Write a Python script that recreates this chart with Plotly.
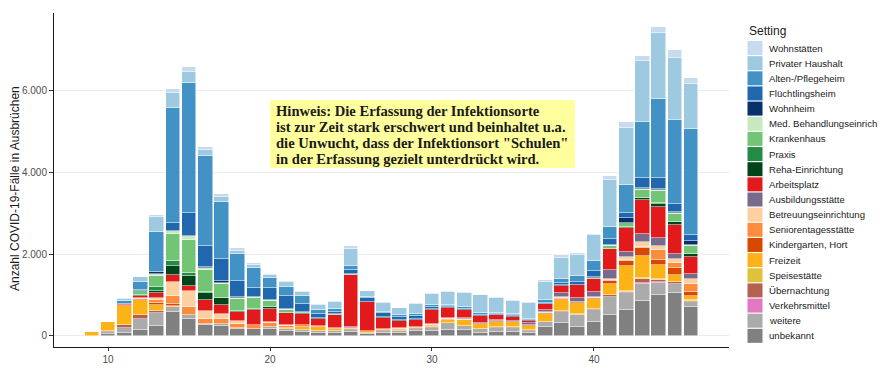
import plotly.graph_objects as go

# ---------------- data ----------------
weeks = [9, 10, 11, 12, 13, 14, 15, 16, 17, 18, 19, 20, 21, 22, 23, 24, 25, 26, 27,
         28, 29, 30, 31, 32, 33, 34, 35, 36, 37, 38, 39, 40, 41, 42, 43, 44, 45, 46]

categories = ["Wohnstätten", "Privater Haushalt", "Alten-/Pflegeheim", "Flüchtlingsheim",
              "Wohnheim", "Med. Behandlungseinrich", "Krankenhaus", "Praxis",
              "Reha-Einrichtung", "Arbeitsplatz", "Ausbildungsstätte",
              "Betreuungseinrichtung", "Seniorentagesstätte", "Kindergarten, Hort",
              "Freizeit", "Speisestätte", "Übernachtung", "Verkehrsmittel", "weitere",
              "unbekannt"]

colors = ["#C6DBEF", "#9ECAE1", "#4292C6", "#2067AE", "#08306B", "#C7E9C0", "#74C476",
          "#238B45", "#00441B", "#E31A1C", "#776A8C", "#FDD0A2", "#FD8D3C", "#D94801",
          "#FDB217", "#DFC237", "#B5614F", "#E377C2", "#ABABAB", "#808080"]

wohnstaetten = [0, 0, 10, 10, 57, 82, 123, 82, 82, 57, 40, 30, 30, 20, 20, 20, 80, 20, 10,
                10, 10, 20, 20, 20, 20, 20, 20, 20, 60, 80, 60, 40, 100, 160, 120, 160, 200, 160]
privater_haushalt = [0, 0, 60, 120, 368, 368, 261, 147, 123, 82, 80, 60, 130, 100, 120, 180,
                     400, 130, 230, 180, 260, 280, 330, 360, 440, 360, 320, 390, 420, 510,
                     500, 640, 1150, 1370, 1490, 1610, 1510, 1090]
alten_pflegeheim = [0, 0, 80, 200, 980, 2819, 3170, 2190, 1405, 654, 490, 250, 220, 190,
                    110, 80, 110, 40, 30, 40, 50, 30, 30, 30, 30, 30, 40, 20, 80, 100, 160,
                    230, 270, 690, 1360, 1930, 2040, 2590]
fluechtlingsheim = [0, 0, 0, 10, 0, 188, 556, 523, 539, 392, 220, 280, 320, 200, 90, 50, 90,
                    80, 80, 70, 70, 50, 20, 20, 20, 20, 20, 10, 30, 40, 60, 160, 150, 120,
                    260, 280, 200, 160]
wohnheim = [0, 0, 0, 0, 41, 15, 0, 25, 33, 25, 0, 0, 0, 0, 10, 0, 0, 10, 10, 10, 10, 15, 15,
            10, 10, 10, 10, 10, 10, 20, 10, 10, 10, 120, 10, 20, 20, 80]
med_behandlung = [0, 0, 0, 20, 41, 57, 98, 41, 33, 20, 25, 25, 15, 0, 0, 0, 0, 0, 0, 0, 0,
                  0, 0, 0, 0, 0, 0, 0, 0, 0, 0, 0, 20, 20, 40, 30, 30, 30]
krankenhaus = [0, 0, 0, 80, 286, 654, 817, 531, 335, 300, 270, 165, 65, 40, 0, 30, 30, 0, 0,
               0, 0, 0, 0, 0, 0, 0, 0, 0, 0, 0, 0, 30, 70, 90, 180, 280, 190, 190]
praxis = [0, 0, 0, 0, 82, 123, 82, 30, 0, 0, 0, 0, 0, 0, 0, 0, 0, 0, 0, 0, 0, 0, 0, 0, 0, 0,
          0, 0, 0, 0, 0, 0, 0, 0, 20, 20, 10, 0]
reha = [0, 0, 0, 30, 57, 229, 229, 180, 172, 33, 33, 30, 10, 10, 10, 0, 0, 0, 10, 10, 0, 10,
        10, 10, 10, 0, 0, 0, 0, 10, 0, 0, 10, 30, 50, 80, 80, 80]
arbeitsplatz = [0, 0, 20, 60, 123, 163, 139, 270, 221, 212, 351, 330, 290, 270, 170, 310,
                1270, 700, 270, 180, 170, 340, 230, 200, 160, 130, 110, 60, 130, 170, 320,
                320, 520, 590, 820, 760, 690, 420]
ausbildung = [0, 0, 0, 0, 0, 0, 0, 0, 0, 0, 0, 0, 0, 0, 0, 0, 30, 10, 0, 0, 0, 15, 20, 20,
              20, 20, 10, 50, 60, 110, 90, 130, 200, 120, 190, 190, 120, 130]
betreuung = [0, 0, 0, 20, 49, 343, 368, 200, 123, 82, 10, 30, 20, 10, 0, 0, 0, 0, 0, 20, 0,
             20, 20, 10, 0, 0, 0, 0, 10, 15, 15, 20, 30, 60, 120, 100, 100, 110]
senioren = [0, 0, 0, 0, 82, 204, 204, 110, 123, 82, 82, 90, 60, 30, 20, 20, 0, 10, 10, 20, 0,
            15, 20, 0, 0, 0, 0, 0, 10, 15, 0, 0, 20, 20, 40, 240, 140, 190]
kindergarten = [0, 20, 30, 30, 41, 57, 0, 0, 0, 0, 0, 0, 0, 0, 0, 0, 0, 0, 0, 0, 10, 0, 0,
                20, 20, 20, 10, 10, 20, 20, 20, 20, 70, 140, 190, 120, 160, 100]
freizeit = [90, 220, 450, 360, 139, 20, 0, 0, 0, 0, 0, 0, 20, 90, 120, 50, 20, 40, 30, 20,
            20, 40, 70, 130, 110, 120, 120, 100, 190, 280, 270, 230, 270, 590, 530, 350,
            160, 100]
speisestaette = [0, 0, 0, 0, 0, 0, 0, 0, 0, 0, 0, 0, 0, 0, 0, 0, 0, 0, 0, 0, 0, 0, 0, 0, 0,
                 0, 0, 0, 0, 10, 10, 10, 20, 30, 30, 20, 20, 20]
uebernachtung = [0, 20, 80, 90, 41, 0, 0, 0, 0, 0, 0, 0, 0, 0, 0, 0, 20, 0, 10, 10, 20, 10,
                 10, 10, 10, 20, 20, 20, 20, 20, 20, 20, 30, 30, 100, 60, 40, 30]
verkehrsmittel = [0, 0, 0, 0, 0, 0, 0, 0, 0, 0, 0, 0, 0, 0, 0, 0, 0, 0, 0, 0, 0, 0, 0, 0, 0,
                  0, 0, 0, 0, 0, 0, 0, 0, 10, 10, 10, 0, 0]
weitere = [0, 50, 110, 270, 327, 106, 106, 25, 41, 30, 20, 50, 60, 40, 50, 60, 60, 20, 50,
           40, 70, 90, 170, 90, 80, 100, 110, 60, 110, 260, 280, 300, 440, 400, 420, 300,
           230, 120]
unbekannt = [0, 40, 80, 150, 245, 596, 409, 270, 250, 175, 160, 170, 110, 100, 60, 60, 90,
             50, 80, 80, 110, 110, 140, 150, 80, 100, 90, 70, 220, 320, 220, 340, 520, 640,
             860, 1000, 1040, 710]

series = [wohnstaetten, privater_haushalt, alten_pflegeheim, fluechtlingsheim, wohnheim,
          med_behandlung, krankenhaus, praxis, reha, arbeitsplatz, ausbildung, betreuung,
          senioren, kindergarten, freizeit, speisestaette, uebernachtung, verkehrsmittel,
          weitere, unbekannt]

x_ticks = [10, 20, 30, 40]
y_ticks = [0, 2000, 4000, 6000]
y_ticktext = ["0", "2.000", "4.000", "6.000"]
y_title = "Anzahl COVID-19-Fälle in Ausbrüchen"

note_lines = ["Hinweis: Die Erfassung der Infektionsorte",
              "ist zur Zeit stark erschwert und beinhaltet u.a.",
              "die Unwucht, dass der Infektionsort \"Schulen\"",
              "in der Erfassung gezielt unterdrückt wird."]

# ---------------- geometry ----------------
W, H = 887, 376
ML, MR, MT, MB = 54, 158, 13, 29
PW, PH = W - ML - MR, H - MT - MB


def px_x(px):
    return (px - ML) / PW


def px_y(py):
    return (H - MB - py) / PH


# ---------------- figure ----------------
fig = go.Figure()
for name, col, vals in reversed(list(zip(categories, colors, series))):
    fig.add_trace(go.Bar(
        x=weeks, y=[v if v else None for v in vals], name=name,
        marker=dict(color=col, line=dict(color="white", width=0.5)),
        width=0.9, showlegend=False,
        hovertemplate="KW %{x}<br>" + name + ": %{y}<extra></extra>"))

shapes = []
annotations = []
# manual legend (ggplot style)
annotations.append(dict(text="Setting", xref="paper", yref="paper", x=px_x(747),
                        y=px_y(31), xanchor="left", yanchor="middle", showarrow=False,
                        font=dict(family="Liberation Sans, Arial", size=12, color="#1a1a1a")))
step = 15.15
for i, (name, col) in enumerate(zip(categories, colors)):
    yc = 48 + i * step
    shapes.append(dict(type="rect", xref="paper", yref="paper",
                       x0=px_x(747.5), x1=px_x(762.5), y0=px_y(yc - 7), y1=px_y(yc + 7),
                       fillcolor=col, line=dict(width=0)))
    annotations.append(dict(text=name, xref="paper", yref="paper", x=px_x(767),
                            y=px_y(yc), xanchor="left", yanchor="middle", showarrow=False,
                            font=dict(family="Liberation Sans, Arial", size=9.6, color="#222")))

# note box (label with yellow fill)
shapes.append(dict(type="rect", xref="paper", yref="paper", layer="above",
                   x0=px_x(270), x1=px_x(575), y0=px_y(168), y1=px_y(100),
                   fillcolor="#FFFF9E", line=dict(width=0)))
for j, line in enumerate(note_lines):
    annotations.append(dict(text="<b>" + line + "</b>", xref="paper", yref="paper",
                            x=px_x(274), y=px_y(110.5 + j * 16.2), xanchor="left",
                            yanchor="middle", showarrow=False,
                            font=dict(family="Liberation Serif, DejaVu Serif, serif",
                                      size=14.6, color="#1a1a1a")))

# y-axis title
annotations.append(dict(text=y_title, xref="paper", yref="paper", x=px_x(15),
                        y=px_y(189), xanchor="center", yanchor="middle", textangle=-90,
                        showarrow=False,
                        font=dict(family="Liberation Sans, Arial", size=12, color="#1a1a1a")))

fig.update_layout(
    width=W, height=H,
    margin=dict(l=ML, r=MR, t=MT, b=MB, autoexpand=False),
    plot_bgcolor="white", paper_bgcolor="white",
    barmode="stack", bargap=0,
    font=dict(family="Liberation Sans, Arial, sans-serif"),
    xaxis=dict(range=[6.66, 48.34], tickvals=x_ticks, ticks="outside", ticklen=3,
               tickcolor="#333333", showline=True, linecolor="#1a1a1a", linewidth=1,
               showgrid=False, zeroline=False, automargin=False,
               tickfont=dict(size=10, color="#4D4D4D")),
    yaxis=dict(range=[-270, 7890], tickvals=y_ticks, ticktext=y_ticktext, ticks="outside",
               ticklen=4, tickcolor="#333333", showline=True, linecolor="#1a1a1a",
               linewidth=1, showgrid=True, gridcolor="#EBEBEB", gridwidth=1, zeroline=False,
               automargin=False,
               tickfont=dict(size=10, color="#4D4D4D")),
    shapes=shapes,
    annotations=annotations,
)

fig.write_html("out.html", config={"displayModeBar": False},
               post_script="document.body.style.margin='0';document.body.style.padding='0';")
